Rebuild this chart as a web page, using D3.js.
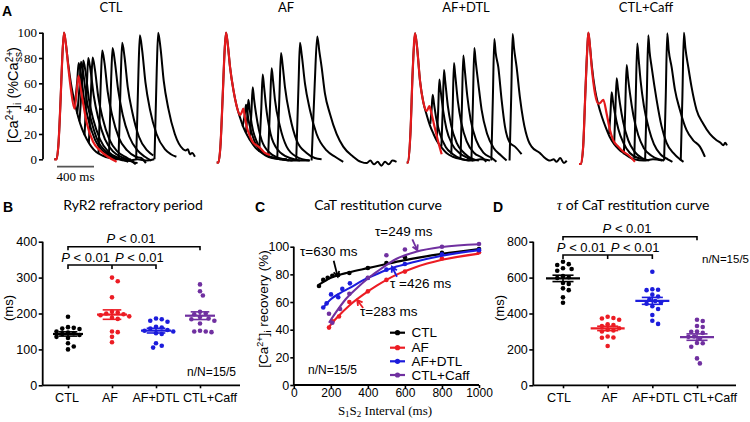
<!DOCTYPE html>
<html>
<head>
<meta charset="UTF-8">
<title>RyR2 refractoriness and CaT restitution</title>
<script src="https://d3js.org/d3.v7.min.js"></script>
<style>
  body { margin: 0; padding: 0; background: #fff; }
  svg { display: block; }
  text { font-family: "Liberation Sans", Arial, sans-serif; fill: #000; }
  .title { font-family: Lato, "Open Sans", sans-serif; font-size: 14px; }
  .serif { font-family: "Liberation Serif", "Times New Roman", serif; }
  .letter { font-weight: bold; font-size: 14px; }
</style>
</head>
<body>
<div id="chart"></div>
<script>
// ---------- panel A: Ca transients, [ms from S1 onset, % of steady state] ----------
const traceGroups = ["CTL", "AF", "AF+DTL", "CTL+Caff"];

const ctlS1 = [[0,0],[24,0],[45,12],[68,47],[86,80],[105,100],[122,93],[151,75],[180,60],[220,45],[260,33],[300,24],[350,16],[400,10],[450,6],[520,3],[600,1],[700,0],[800,-1],[900,0],[1000,-1],[1080,0]];
const ctlRed = [[0,0],[24,0],[45,12],[68,47],[86,80],[105,100],[122,93],[151,73],[180,55],[218,40],[240,52],[261,66],[283,57],[310,45],[353,28],[418,14],[494,7],[580,2],[674,-2]];
const ctlS2 = [
  [[223,44],[248,62],[263,76],[288,67],[323,47],[373,30],[443,15],[533,6],[650,1],[730,0],[800,-2]],
  [[248,36],[273,58],[288,77],[313,68],[348,48],[398,31],[468,15],[558,6],[680,1],[760,-1],[830,0]],
  [[273,30],[298,58],[313,78],[338,69],[373,48],[423,31],[493,16],[583,6],[700,1],[790,-1],[860,-2]],
  [[327,19],[352,58],[367,80],[392,70],[427,50],[477,32],[547,16],[637,6],[750,1],[830,-1],[880,-4]],
  [[374,13],[399,58],[414,80.5],[439,71],[474,50],[524,32],[594,16],[684,6],[790,1],[850,-2],[900,-3]],
  [[478,4.5],[503,62],[518,86],[543,76],[578,53],[628,34],[698,17],[788,7],[880,2],[940,1],[990,-3]],
  [[590,1],[615,64],[630,88],[655,77],[690,55],[740,35],[810,18],[900,7],[980,2],[1050,-1]],
  [[694,0],[719,66],[734,92],[759,81],[794,57],[844,37],[914,18],[1004,7],[1070,3]],
  [[885,0],[910,70],[925,98],[950,86],[985,61],[1035,39],[1105,20],[1195,8],[1260,4],[1320,2]],
  [[1083,0],[1108,72],[1123,100],[1148,88],[1183,62],[1233,40],[1303,20],[1393,8],[1420,7],[1445,8],[1465,4],[1490,5],[1520,2]]
];

const afS1 = [[0,-2.6],[18,-2.6],[40,10],[65,50],[85,85],[101,100],[118,92],[144,73],[180,55],[216,42],[252,33],[290,25],[330,19],[370,14],[420,9],[470,6],[530,3],[600,1],[700,0],[800,-1],[900,-1],[1000,-1]];
const afRed = [[0,-2.6],[18,-2.6],[40,10],[65,50],[85,85],[101,100],[118,92],[144,73],[180,55],[216,42],[252,35],[270,37],[288,40],[305,33],[324,26],[360,18],[396,13],[432,11],[468,9],[522,5],[576,3.4]];
const afS2 = [
  [[280,26],[305,36],[317,43],[330,37],[352,28],[410,14],[500,5],[640,1],[760,0]],
  [[315,21],[330,33],[342,47],[356,40],[378,28],[439,13],[540,3],[684,0],[780,-1]],
  [[358,15],[376,38],[389,57],[403,48],[425,36],[486,15],[576,5],[720,0],[820,-1]],
  [[460,6],[482,40],[497,67],[511,58],[533,42],[583,20],[666,7],[792,1],[900,-1]],
  [[556,2],[578,45],[594,72],[608,63],[630,47],[684,26],[756,10],[864,2],[1008,-1]],
  [[655,1],[678,50],[695,84],[712,75],[738,57],[792,34],[864,15],[972,5],[1060,1],[1134,0]],
  [[860,0],[885,60],[900,92],[920,82],[954,60],[1008,39],[1080,20],[1188,7],[1280,2],[1368,-2]],
  [[1026,-1],[1060,60],[1087,97],[1110,85],[1134,73],[1170,52],[1224,36],[1296,20],[1368,10],[1476,2],[1530,-1],[1560,-2],[1620,-3],[1660,-1],[1700,-4],[1740,-2],[1780,-5],[1820,-2],[1860,-4],[1900,-1],[1944,-2]]
];

const dtlS1 = [[0,-2.6],[15,-2.6],[40,20],[65,70],[90,99.5],[110,90],[144,62],[180,45],[216,35],[250,27],[290,20],[330,14],[380,9],[430,5],[500,2],[600,0],[700,-1],[800,0],[900,-1]];
const dtlRed = [[0,-2.6],[15,-2.6],[40,20],[65,70],[90,99.5],[110,90],[144,62],[180,45],[216,38],[245,42],[262,38],[300,26],[340,14],[378,4]];
const dtlS2 = [
  [[255,28],[268,38],[281,51],[295,44],[320,32],[360,20],[420,10],[500,4],[600,0],[680,-1]],
  [[325,15],[340,38],[353,63],[366,55],[395,38],[430,24],[490,12],[570,5],[660,1],[720,-1]],
  [[375,10],[390,40],[403,70.5],[416,62],[445,42],[480,27],[540,13],[620,5],[720,0],[780,-1]],
  [[482,4],[497,40],[511,76],[524,67],[553,46],[590,29],[650,14],[730,5],[820,1],[860,-2]],
  [[582,1],[597,42],[612,82],[626,72],[655,50],[692,31],[752,15],[832,5],[920,1],[970,-2]],
  [[700,0],[716,45],[731,88],[745,78],[774,60],[810,39],[870,20],[940,9],[1020,3],[1080,-1]],
  [[915,-1],[932,50],[947,95],[962,84],[990,73],[1026,47],[1062,26],[1116,13],[1170,10],[1242,4]],
  [[1112,-1],[1130,50],[1145,99],[1160,88],[1188,73],[1224,49],[1260,31],[1314,15],[1350,10],[1440,5],[1480,2],[1550,-1],[1590,0],[1620,-2],[1660,1],[1700,-3],[1730,-1]]
];

const caffS1 = [[0,-3.7],[20,-3.7],[45,10],[70,55],[90,88],[101,100],[115,92],[137,75],[173,55],[209,43],[250,33],[290,25],[330,18],[380,12],[430,8],[480,5],[540,2],[600,0],[700,-1],[800,0],[900,-1]];
const caffRed = [[0,-3.7],[20,-3.7],[45,10],[70,55],[90,88],[101,100],[115,92],[137,73],[173,52],[209,44],[235,45],[263,47],[299,36],[335,23],[371,15],[425,10],[479,6],[533,3.4],[605,-2]];
const caffS2 = [
  [[325,20],[340,36],[353,53],[367,46],[389,36],[425,24],[480,13],[550,5],[640,1],[720,0]],
  [[380,12],[393,38],[407,64],[421,56],[443,44],[479,29],[533,15],[600,6],[680,1],[760,-1]],
  [[485,4],[500,40],[515,74.5],[529,65],[551,52],[587,35],[641,19],[700,9],[780,3],[860,0],[920,-1]],
  [[598,1],[614,50],[630,91.5],[644,80],[666,62],[702,42],[756,24],[810,12],[880,4],[960,0],[1010,-2]],
  [[715,0],[733,50],[749,98],[763,85],[785,73],[839,47],[893,26],[947,13],[1019,5],[1091,0],[1130,-2]],
  [[920,-1],[938,50],[954,99.5],[970,86],[1001,73],[1037,55],[1091,39],[1163,23],[1235,15],[1307,10],[1343,5],[1361,2]],
  [[1100,-1],[1118,50],[1134,100],[1150,88],[1181,73],[1217,57],[1271,39],[1343,28],[1415,20],[1487,15],[1530,13],[1560,11],[1580,13],[1600,11]]
];
const aTicks = [0, 20, 40, 60, 80, 100];

// ---------- panels B and D: per-cell values (ms) ----------
const dotGroups = ["CTL", "AF", "AF+DTL", "CTL+Caff"];
const refrCTL  = [191,162,160,158,157,150,147,145,143,140,135,132,117,108,100];
const refrAF   = [300,290,245,205,203,200,198,195,192,188,185,150,148,135,120];
const refrDTL  = [186,184,180,177,163,161,158,154,152,150,145,143,117,110,105];
const refrCaff = [281,262,250,205,200,198,190,186,184,180,172,152,150,150,148];

const tauCTL  = [688,675,670,652,648,638,608,602,598,570,565,540,530,490,460];
const tauAF   = [382,375,372,365,340,336,330,318,310,305,300,272,265,266,219];
const tauDTL  = [633,535,532,530,505,495,480,470,462,455,440,425,392,360,342];
const tauCaff = [365,358,330,325,300,298,292,272,270,262,236,234,215,150,122];

// ---------- panel C: restitution, [S1S2 interval ms, % recovery] ----------
const recCTL  = [[136,71.6],[159,76],[183,77.6],[208,79],[240,79.5],[300,81],[400,84.6],[500,88.2],[600,92.3],[800,95.5],[1000,98.3]];
const recAF   = [[190,41.5],[208,46],[244,49.5],[300,60],[400,67.7],[500,76],[600,82],[800,91.5],[1000,96]];
const recDTL  = [[159,56],[177,59],[201,65.5],[240,63.5],[262,69.5],[303,73.5],[400,77.4],[500,83.4],[600,87.5],[800,94.5],[1000,97.5]];
const recCaff = [[190,51.5],[208,45],[250,55],[300,66],[400,77.5],[500,93.8],[600,98],[800,100],[1000,102]];
const fitCTL  = [[136,72.5],[200,77.5],[300,81.5],[400,84.5],[500,87.5],[600,90.3],[800,94.8],[1000,98.3]];
const fitAF   = [[190,42],[231,48.4],[300,57.5],[375,65.3],[450,72],[555,79.8],[650,84.8],[800,90.5],[1000,95]];
const fitDTL  = [[159,56],[200,62],[250,66.5],[300,70],[375,75.8],[450,80.3],[555,85.6],[650,89],[800,93.5],[1000,97.5]];
const fitCaff = [[190,45],[230,53],[280,62],[340,70],[400,77],[450,82],[555,91.3],[660,96.3],[800,99.8],[1000,101.8]];
const tauLabels = ["τ=630 ms", "τ=283 ms", "τ =426 ms", "τ=249 ms"];
const cXTicks = [0, 200, 400, 600, 800, 1000];
const cYTicks = [0, 20, 40, 60, 80, 100];

const colors = ["#000000", "#ec1c24", "#1c1cdc", "#7030a0"];

// ---------- drawing ----------
const svg = d3.select('#chart').append('svg')
  .attr('width', 750).attr('height', 422)
  .style('background', '#fff');

function styleAxis(sel, size, family) {
  sel.select('.domain').remove();
  sel.selectAll('line').attr('stroke', '#000').attr('stroke-width', 1.6);
  sel.selectAll('text').style('font-size', size).style('font-family', family || null).attr('fill', '#000');
}

// ----- A -----
const aSets = [
  {s1: ctlS1, red: ctlRed, s2: ctlS2},
  {s1: afS1, red: afRed, s2: afS2},
  {s1: dtlS1, red: dtlRed, s2: dtlS2},
  {s1: caffS1, red: caffRed, s2: caffS2}
];
const aOrigins = [54.3, 216.7, 406.7, 579];
const aTitleX = [111, 286, 466, 646];
const yA = d3.scaleLinear().domain([0, 100]).range([159.3, 32.7]);
const xA = d3.scaleLinear().domain([0, 400]).range([0, 37]);
const lineA = d3.line().x(d => xA(d[0])).y(d => yA(d[1])).curve(d3.curveMonotoneX);

aSets.forEach((set, i) => {
  const g = svg.append('g').attr('transform', `translate(${aOrigins[i]},0)`);
  g.append('path').datum(set.s1).attr('d', lineA)
    .attr('fill', 'none').attr('stroke', '#000').attr('stroke-width', 2);
  set.s2.forEach(tr => {
    g.append('path').datum(tr).attr('d', lineA)
      .attr('fill', 'none').attr('stroke', '#000').attr('stroke-width', 2)
      .attr('stroke-linejoin', 'round');
  });
  g.append('path').datum(set.red).attr('d', lineA)
    .attr('fill', 'none').attr('stroke', '#e41a1c').attr('stroke-width', 2.2);
  svg.append('text').attr('class', 'title')
    .attr('x', aTitleX[i]).attr('y', 12).attr('text-anchor', 'middle')
    .style('font-size', '13px').text(traceGroups[i]);
});

svg.append('line').attr('x1', 43).attr('x2', 43).attr('y1', yA(100)).attr('y2', yA(0))
  .attr('stroke', '#000').attr('stroke-width', 1.8);
svg.append('g').attr('transform', 'translate(43,0)')
  .call(d3.axisLeft(yA).tickValues(aTicks).tickSize(4).tickPadding(2))
  .call(s => styleAxis(s, '13px', '"Liberation Serif", serif'))
  .selectAll('text').attr('fill', '#333');

// scale bar
svg.append('line').attr('x1', 57).attr('x2', 57 + xA(400)).attr('y1', 166.7).attr('y2', 166.7)
  .attr('stroke', '#555').attr('stroke-width', 1.8);
svg.append('text').attr('class', 'serif').attr('x', 57 + xA(200)).attr('y', 181)
  .attr('text-anchor', 'middle').style('font-size', '13px').attr('fill', '#444').text('400 ms');

// y label A
const yLabA = svg.append('text').attr('transform', 'translate(18,95) rotate(-90)')
  .attr('text-anchor', 'middle').style('font-size', '14.5px').attr('fill', '#222');
yLabA.append('tspan').text('[Ca');
yLabA.append('tspan').attr('dy', -5).style('font-size', '10px').text('2+');
yLabA.append('tspan').attr('dy', 5).text(']');
yLabA.append('tspan').attr('dy', 3).style('font-size', '10px').text('i');
yLabA.append('tspan').attr('dy', -3).text(' (%Ca');
yLabA.append('tspan').attr('dy', -5).style('font-size', '10px').text('2+');
yLabA.append('tspan').attr('dx', -11).attr('dy', 9).style('font-size', '10px').text('ss');
yLabA.append('tspan').attr('dy', -4).text(')');

// ----- B and D -----
function swarm(values, y, r) {
  const placed = [];
  const sorted = values.map(v => ({v: v, py: y(v)})).sort((a, b) => a.py - b.py);
  const step = r * 1.25, minD = 2 * r + 0.5;
  sorted.forEach(d => {
    for (let k = 0; k < 60; k++) {
      const off = (k % 2 ? 1 : -1) * Math.ceil(k / 2) * step;
      const hit = placed.some(p => (p.off - off) ** 2 + (p.py - d.py) ** 2 < minD * minD);
      if (!hit) { d.off = off; break; }
    }
    placed.push(d);
  });
  return sorted;
}

function dotPlot(cfg) {
  const g = svg.append('g');
  const y = d3.scaleLinear().domain([0, cfg.max]).range([385.3, 241.7]);
  const x = d3.scalePoint().domain(dotGroups).range(cfg.range);

  g.append('line').attr('x1', cfg.left).attr('x2', cfg.left).attr('y1', y(0)).attr('y2', y(cfg.max))
    .attr('stroke', '#000').attr('stroke-width', 1.8);
  g.append('line').attr('x1', cfg.left).attr('x2', cfg.right).attr('y1', y(0)).attr('y2', y(0))
    .attr('stroke', '#000').attr('stroke-width', 1.8);
  g.append('g').attr('transform', `translate(${cfg.left},0)`)
    .call(d3.axisLeft(y).tickValues(d3.range(0, cfg.max + 1, cfg.max / 4)).tickSize(4).tickPadding(1.5))
    .call(s => styleAxis(s, '12.5px'));
  const xa = g.append('g').attr('transform', `translate(0,${y(0)})`)
    .call(d3.axisBottom(x).tickSize(3).tickPadding(5))
    .call(s => styleAxis(s, '12.6px'));
  xa.selectAll('text').attr('dx', (d, i) => cfg.labelDx[i]);

  cfg.data.forEach((vals, i) => {
    const cx = x(dotGroups[i]);
    const pts = swarm(vals, y, 2.3);
    g.selectAll(null).data(pts).join('circle')
      .attr('cx', d => cx + d.off).attr('cy', d => d.py).attr('r', 2.3)
      .attr('fill', colors[i]);
    const m = d3.mean(vals), sem = d3.deviation(vals) / Math.sqrt(vals.length);
    g.append('line').attr('x1', cx - cfg.meanW).attr('x2', cx + cfg.meanW)
      .attr('y1', y(m)).attr('y2', y(m)).attr('stroke', colors[i]).attr('stroke-width', 2.2);
    [m - sem, m + sem].forEach(v => {
      g.append('line').attr('x1', cx - cfg.meanW * 0.62).attr('x2', cx + cfg.meanW * 0.62)
        .attr('y1', y(v)).attr('y2', y(v)).attr('stroke', colors[i]).attr('stroke-width', 1.6);
    });
    g.append('line').attr('x1', cx).attr('x2', cx).attr('y1', y(m - sem)).attr('y2', y(m + sem))
      .attr('stroke', colors[i]).attr('stroke-width', 1.6);
  });

  // significance brackets
  const bx = dotGroups.map(c => x(c));
  const br = g.append('g').attr('fill', 'none').attr('stroke', '#000').attr('stroke-width', 1.6);
  br.append('path').attr('d', `M${bx[0]},${cfg.yTop + 3.5}V${cfg.yTop}H${bx[3]}V${cfg.yTop + 3.5}`);
  br.append('path').attr('d', `M${bx[0]},${cfg.y2 + 4}V${cfg.y2}H${bx[2]}V${cfg.y2 + 4}M${bx[1]},${cfg.y2}V${cfg.y2 + 4}`);
  const pLab = (xx, yy, anchor) => {
    const t = g.append('text').attr('x', xx).attr('y', yy).attr('text-anchor', anchor).style('font-size', '13px');
    t.append('tspan').style('font-style', 'italic').text('P');
    t.append('tspan').text(' < 0.01');
  };
  pLab((bx[0] + bx[3]) / 2 - 3, cfg.yTop - 3.5, 'middle');
  pLab(bx[1] - 2, cfg.y2 - 3.5, 'end');
  pLab(bx[1] + 3, cfg.y2 - 3.5, 'start');

  g.append('text').attr('x', cfg.nx).attr('y', cfg.ny).style('font-size', cfg.nSize).text('n/N=15/5');
  g.append('text').attr('transform', `translate(${cfg.msX},308) rotate(-90)`)
    .attr('text-anchor', 'middle').style('font-size', '13px').text('(ms)');
}

dotPlot({left: 42.7, right: 240, range: [68, 200], max: 400, meanW: 15,
  data: [refrCTL, refrAF, refrDTL, refrCaff], labelDx: [-1.5, -2.5, -0.5, 9.5],
  yTop: 246.7, y2: 265, nx: 187, ny: 376, nSize: '12px', msX: 13});
dotPlot({left: 533.3, right: 736, range: [563, 697], max: 800, meanW: 17,
  data: [tauCTL, tauAF, tauDTL, tauCaff], labelDx: [-4.5, 1.5, 3, 12.5],
  yTop: 236.7, y2: 255, nx: 702, ny: 263, nSize: '11.5px', msX: 504});

// titles
svg.append('text').attr('class', 'title').attr('x', 133).attr('y', 210).attr('text-anchor', 'middle')
  .text('RyR2  refractory period');
svg.append('text').attr('class', 'title').attr('x', 378).attr('y', 210).attr('text-anchor', 'middle')
  .text('CaT restitution curve');
const tD = svg.append('text').attr('class', 'title').attr('x', 633).attr('y', 210).attr('text-anchor', 'middle');
tD.append('tspan').attr('class', 'serif').style('font-style', 'italic').style('font-size', '15px').text('τ');
tD.append('tspan').text(' of CaT restitution curve');

// ----- C -----
const xC = d3.scaleLinear().domain([0, 1000]).range([293.8, 479]);
const yC = d3.scaleLinear().domain([0, 100]).range([385, 246.7]);
svg.append('line').attr('x1', xC(0)).attr('x2', xC(0)).attr('y1', yC(0)).attr('y2', yC(100))
  .attr('stroke', '#000').attr('stroke-width', 1.8);
svg.append('line').attr('x1', xC(0)).attr('x2', xC(1000)).attr('y1', yC(0)).attr('y2', yC(0))
  .attr('stroke', '#000').attr('stroke-width', 1.8);
svg.append('g').attr('transform', `translate(${xC(0)},0)`)
  .call(d3.axisLeft(yC).tickValues(cYTicks).tickSize(3.5).tickPadding(1))
  .call(s => styleAxis(s, '12.5px'));
svg.append('g').attr('transform', `translate(0,${yC(0)})`)
  .call(d3.axisBottom(xC).tickValues(cXTicks).tickFormat(d3.format('d')).tickSize(3).tickPadding(0.5))
  .call(s => styleAxis(s, '12px'));

const lineC = d3.line().x(d => xC(d[0])).y(d => yC(d[1])).curve(d3.curveMonotoneX);
const fits = [fitCTL, fitAF, fitDTL, fitCaff];
const recs = [recCTL, recAF, recDTL, recCaff];
fits.forEach((f, i) => {
  svg.append('path').datum(f).attr('d', lineC).attr('fill', 'none')
    .attr('stroke', colors[i]).attr('stroke-width', 2.1);
  svg.selectAll(null).data(recs[i]).join('circle')
    .attr('cx', d => xC(d[0])).attr('cy', d => yC(d[1])).attr('r', 2.3).attr('fill', colors[i]);
});

// tau annotations: tip on curve (data), tail offset and label position (layout)
const ann = [
  {i: 0, tip: [237, 78.3], tail: [-4, -16], lx: 300, ly: 256},
  {i: 1, tip: [342, 61.5], tail: [6, 8], lx: 360, ly: 316},
  {i: 2, tip: [530, 85.5], tail: [5, 10], lx: 390, ly: 288},
  {i: 3, tip: [667, 97.4], tail: [-5, -11], lx: 375, ly: 236}
];
ann.forEach(a => {
  const tx = xC(a.tip[0]), ty = yC(a.tip[1]);
  const sx = tx + a.tail[0], sy = ty + a.tail[1];
  const ang = Math.atan2(sy - ty, sx - tx), L = 6, w = 0.5;
  svg.append('path')
    .attr('d', `M${sx},${sy}L${tx},${ty}M${tx + L * Math.cos(ang - w)},${ty + L * Math.sin(ang - w)}L${tx},${ty}L${tx + L * Math.cos(ang + w)},${ty + L * Math.sin(ang + w)}`)
    .attr('fill', 'none').attr('stroke', colors[a.i]).attr('stroke-width', 1.8);
  svg.append('text').attr('x', a.lx).attr('y', a.ly).style('font-size', '13.5px')
    .attr('fill', colors[a.i]).text(tauLabels[a.i]);
});

// legend
const legY = [332.7, 347.7, 361.3, 375];
dotGroups.forEach((name, i) => {
  svg.append('line').attr('x1', 390).attr('x2', 405).attr('y1', legY[i]).attr('y2', legY[i])
    .attr('stroke', colors[i]).attr('stroke-width', 2.2);
  svg.append('circle').attr('cx', 397.5).attr('cy', legY[i]).attr('r', 2.6).attr('fill', colors[i]);
  svg.append('text').attr('x', 411.5).attr('y', legY[i] + 4.5).style('font-size', '13.5px')
    .attr('fill', colors[i]).text(name);
});
svg.append('text').attr('x', 308).attr('y', 374).style('font-size', '12px').text('n/N=15/5');

// axis titles C
const xLabC = svg.append('text').attr('class', 'serif').attr('x', 385).attr('y', 414.5)
  .attr('text-anchor', 'middle').style('font-size', '13px');
xLabC.append('tspan').text('S');
xLabC.append('tspan').attr('dy', 2.5).style('font-size', '9px').text('1');
xLabC.append('tspan').attr('dy', -2.5).text('S');
xLabC.append('tspan').attr('dy', 2.5).style('font-size', '9px').text('2');
xLabC.append('tspan').attr('dy', -2.5).text('  Interval (ms)');

const yLabC = svg.append('text').attr('transform', 'translate(268,309) rotate(-90)')
  .attr('text-anchor', 'middle').style('font-size', '13.5px');
yLabC.append('tspan').text('[Ca');
yLabC.append('tspan').attr('dy', -5).style('font-size', '9px').text('2+');
yLabC.append('tspan').attr('dy', 5).text(']');
yLabC.append('tspan').attr('dy', 3).style('font-size', '9px').text('i');
yLabC.append('tspan').attr('dy', -3).text(' recovery (%)');

// panel letters
[['A', 2, 15.5], ['B', 3, 212], ['C', 255, 212], ['D', 493, 212]].forEach(l => {
  svg.append('text').attr('class', 'letter').attr('x', l[1]).attr('y', l[2]).text(l[0]);
});
</script>
</body>
</html>
